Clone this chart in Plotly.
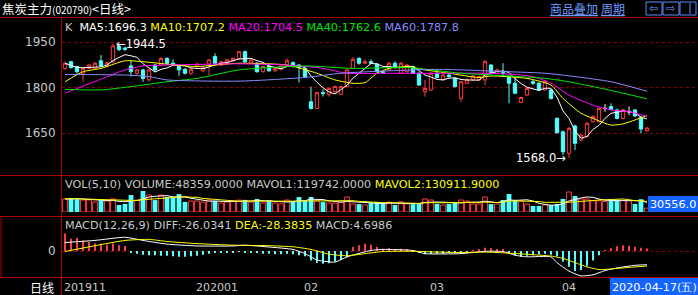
import numpy as np
import pandas as pd
import plotly.graph_objects as go

W, H = 698, 295

# ---------------- data ----------------
opens = [1863,1885,1869,1847,1863,1863,1888,1871,1885,1936,1930,1871,1847,1858,1825,1874,1874,1896,1880,1869,
         1860,1847,1869,1855,1877,1902,1874,1880,1888,1896,1918,1880,1880,1852,1871,1855,1860,1874,1882,1874,
         1863,1753,1731,1783,1778,1786,1778,1803,1863,1896,1880,1885,1877,1852,1858,1880,1847,1852,1869,1847,
         1786,1792,1847,1825,1841,1830,1764,1814,1825,1825,1825,1874,1847,1849,1836,1814,1751,1775,1819,1814,
         1792,1792,1698,1654,1583,1673,1627,1638,1687,1687,1731,1737,1726,1698,1720,1726,1701,1657]
highs = [1885,1888,1872,1866,1878,1884,1907,1885,1944.5,1940,1935,1891,1862,1862,1862,1878,1900,1900,1893,1872,
         1864,1866,1880,1870,1894,1913,1888,1894,1899,1921,1922,1894,1884,1872,1874,1866,1875,1896,1886,1878,
         1866,1803,1786,1794,1800,1806,1806,1862,1900,1900,1893,1893,1880,1856,1884,1886,1884,1878,1872,1850,
         1825,1850,1850,1845,1846,1833,1822,1830,1842,1840,1891,1878,1862,1880,1840,1835,1770,1800,1825,1818,
         1825,1795,1702,1658,1670,1678,1646,1686,1708,1735,1745,1748,1730,1730,1737,1729,1705,1670]
lows = [1858,1862,1845,1819,1860,1860,1868,1866,1880,1920,1920,1836,1840,1819,1820,1850,1870,1875,1870,1838,
        1843,1841,1866,1850,1841,1877,1870,1877,1885,1893,1880,1876,1849,1849,1852,1852,1857,1872,1866,1816,
        1833,1728,1729,1770,1770,1783,1776,1800,1860,1875,1877,1877,1849,1845,1855,1862,1844,1849,1844,1806,
        1770,1789,1830,1822,1832,1800,1753,1811,1822,1822,1808,1844,1844,1836,1748,1778,1748,1772,1808,1789,
        1789,1760,1648,1577,1568,1594,1622,1635,1684,1684,1720,1725,1695,1695,1709,1703,1649,1655]
closes = [1880,1866,1852,1863,1874,1880,1871,1882,1937,1925,1926,1852,1858,1830,1858,1858,1896,1880,1877,1858,
          1847,1860,1877,1866,1891,1880,1885,1891,1896,1918,1885,1891,1852,1869,1855,1863,1871,1888,1869,1866,
          1836,1731,1783,1780,1797,1803,1803,1858,1893,1880,1885,1880,1852,1849,1880,1866,1880,1874,1847,1808,
          1797,1847,1833,1841,1836,1803,1819,1825,1838,1836,1885,1847,1858,1846,1814,1781,1767,1797,1814,1792,
          1819,1764,1651,1588,1665,1616,1643,1682,1704,1731,1731,1728,1698,1726,1720,1706,1663,1666.5]
volumes = [163000,175000,162000,150000,151000,125000,149000,138000,164000,88000,101000,212000,150000,262000,213000,149000,
           211000,188000,186000,224000,126000,137000,139000,124000,151000,138000,112000,126000,137000,149000,151000,124000,
           163000,113000,149000,112000,101000,150000,138000,187000,137000,188000,139000,124000,113000,112000,126000,187000,
           101000,99000,88000,113000,126000,100000,124000,88000,126000,101000,99000,112000,163000,150000,101000,88000,
           100000,126000,150000,137000,100000,101000,187000,99000,100000,150000,225000,151000,137000,100000,75000,76000,
           88000,87000,101000,163000,250000,200000,163000,162000,142000,141000,131000,143000,153409,145000,146000,100000,
           159351,48359]

# moving averages (candle index -> value)
ma10_idx = [0,3,6,10,13,17,22,25,29,37,42,45,48,50,52,54,57,60,64,69,71,77,81,83,86,88,91,93,95,97]
ma10_val = [1819,1852,1863,1888,1885,1877,1869,1874,1880,1874,1847,1825,1814,1816,1847,1863,1869,1858,1847,1833,
            1838,1830,1808,1764,1715,1698,1676,1680,1693,1707.2]
ma20_idx = [0,5,10,13,17,29,37,43,47,55,60,70,75,78,81,84,88,91,94,97]
ma20_val = [1781,1820,1858,1871,1874,1878,1874,1863,1847,1847,1847,1847,1843,1836,1814,1775,1742,1726,1720,1704.5]
ma40_idx = [0,6,11,17,22,29,40,48,57,66,74,80,84,88,92,97]
ma40_val = [1794,1792,1803,1819,1830,1858,1871,1863,1866,1847,1838,1830,1819,1803,1786,1762.6]
ma60_idx = [0,10,14,17,29,40,46,54,62,66,74,80,85,91,97]
ma60_val = [1843,1841,1836,1825,1821,1833,1847,1855,1860,1858,1852,1847,1836,1819,1787.8]

# MACD
diff_idx = [0,5,10,13,17,22,28,30,34,38,40,42,45,47,51,53,58,60,66,70,73,75,77,81,82,84,86,88,90,92,95,97]
diff_val = [16,20,26,20,13,9.5,9.5,11,7.5,3,-5,-17,-21,-11,1,3,1,-5,-5,-0.6,-1,-8,-11,-11,-22,-38,-47,-45,-37,-32,
            -27,-26.0341]
dea_idx = [0,5,10,14,17,22,28,34,38,41,44,47,50,53,58,62,66,70,74,78,81,83,85,87,89,91,94,97]
dea_val = [-1,10,20,22,18,14,11,10,8,3,-6,-9,-5,-1,-0.5,-2,-3,-2,-4,-7,-9.5,-14,-22,-30,-35,-34,-31,-28.3835]
macd_hist = [33,23,25,20,17,14,14,12,14,11,9.5,
             -3,-5,-7,-8,-8,-9,-9,-10,-11,-11,-10,-9,-7,-5,-4,-3,-2,-2,-1,-2,-3,-4,-5,-5,-6,-6,-5,-6,-8,-10,
             -18,-22,-24,-23,-20,-17,-12,
             7.6,10.7,13.9,12,7.6,4.4,5.7,3.2,4.4,2,-1,
             -4,-6,-5,-5,-5,-4,-4,-3,-1,1,
             3,6,5,4,2,
             -4,-8,-11,-9,-8,-6,-5,-7,
             -10,-20,-30,-38,-36,-28,-18,-8,1,5,9,11,10,8,6,4.6986]

# header read-outs as printed in the picture
ma_names = ["MA5", "MA10", "MA20", "MA40", "MA60"]
ma_last = [1696.3, 1707.2, 1704.5, 1762.6, 1787.8]
vol_last = [48359.0, 119742.0, 130911.9]
macd_last = [-26.0341, -28.3835, 4.6986]
vol_cursor = 30556.0
date_cursor = "2020-04-17(五)"

month_labels = ["201911", "202001", "02", "03", "04"]
month_pos = [0, 22, 40, 61, 83]
price_ticks = [1650, 1800, 1950]

# ---------------- derived ----------------
n = len(closes)
x = np.arange(n)
o = np.array(opens, float); h = np.array(highs, float); l = np.array(lows, float); c = np.array(closes, float)
up = c > o
dn = c < o
dj = c == o
ma5 = pd.Series(c).rolling(5, min_periods=1).mean()
vol = pd.Series(volumes, dtype=float)
mavol1 = vol.rolling(5, min_periods=1).mean()
mavol2 = vol.rolling(10, min_periods=1).mean()
hist = np.array(macd_hist, float)

RED = "#FF3C3C"
CYAN = "#54FFFF"
FRAME = "#B00000"
GRID = "#8C0000"
LBL = "#C8C8C8"
FONT = "DejaVu Sans"
CJK = "Noto Sans CJK SC"
MA_COLORS = ["#FFFFFF", "#FFFF00", "#FF00FF", "#00E600", "#8A8AFF"]

def px(xp): return xp / W
def py(yp): return 1 - yp / H

def mask(arr, m):
    a = np.array(arr, float).copy(); a[~m] = np.nan; return a

fig = go.Figure()

def candle(m, lc, fc, name):
    fig.add_trace(go.Candlestick(
        x=x, open=mask(o, m), high=mask(h, m), low=mask(l, m), close=mask(c, m),
        increasing=dict(line=dict(color=lc, width=1), fillcolor=fc),
        decreasing=dict(line=dict(color=lc, width=1), fillcolor=fc),
        whiskerwidth=0, name=name, showlegend=False, hoverinfo="skip",
        xaxis="x", yaxis="y"))

candle(up, RED, "#000000", "up")
candle(dn, CYAN, CYAN, "down")
candle(dj, "#FFFFFF", "#FFFFFF", "doji")

fig.add_trace(go.Scatter(x=x, y=ma5, mode="lines", line=dict(color=MA_COLORS[0], width=1), xaxis="x", yaxis="y"))
for idx, val, col in [(ma10_idx, ma10_val, MA_COLORS[1]), (ma20_idx, ma20_val, MA_COLORS[2]),
                      (ma40_idx, ma40_val, MA_COLORS[3]), (ma60_idx, ma60_val, MA_COLORS[4])]:
    fig.add_trace(go.Scatter(x=idx, y=val, mode="lines", line=dict(color=col, width=1, shape="spline", smoothing=0.6),
                             xaxis="x", yaxis="y"))

# volume
vup = ~dn
fig.add_trace(go.Bar(x=x[vup], y=vol[vup], width=0.8, marker=dict(color="#000000", line=dict(color=RED, width=1)),
                     xaxis="x", yaxis="y2"))
fig.add_trace(go.Bar(x=x[dn], y=vol[dn], width=0.8, marker=dict(color=CYAN, line=dict(color=CYAN, width=0)),
                     xaxis="x", yaxis="y2"))
fig.add_trace(go.Scatter(x=x, y=mavol1, mode="lines", line=dict(color="#FFFFFF", width=1), xaxis="x", yaxis="y2"))
fig.add_trace(go.Scatter(x=x, y=mavol2, mode="lines", line=dict(color="#FFFF00", width=1), xaxis="x", yaxis="y2"))

# MACD
hp = hist >= 0
fig.add_trace(go.Bar(x=x[hp], y=hist[hp], width=0.17, marker=dict(color=RED, line=dict(width=0)), xaxis="x", yaxis="y3"))
fig.add_trace(go.Bar(x=x[~hp], y=hist[~hp], width=0.17, marker=dict(color=CYAN, line=dict(width=0)), xaxis="x", yaxis="y3"))
fig.add_trace(go.Scatter(x=diff_idx, y=diff_val, mode="lines", line=dict(color="#FFFFFF", width=1, shape="spline", smoothing=0.5),
                         xaxis="x", yaxis="y3"))
fig.add_trace(go.Scatter(x=dea_idx, y=dea_val, mode="lines", line=dict(color="#FFFF00", width=1, shape="spline", smoothing=0.5),
                         xaxis="x", yaxis="y3"))

# axes: price 1950@42px, 1800@87px, 1650@133px
k = 150 / 45.5
p_top = 1950 + (42 - 17) * k
p_bot = 1950 - (175 - 42) * k
vk = 12500
m_unit = 1.89

fig.update_layout(
    width=W, height=H, margin=dict(l=0, r=0, t=0, b=0),
    paper_bgcolor="#000000", plot_bgcolor="#000000", showlegend=False,
    barmode="overlay", boxgap=0.2,
    xaxis=dict(domain=[px(62), 1], range=[-0.5, 105.5], visible=False, rangeslider=dict(visible=False), anchor="y"),
    yaxis=dict(domain=[py(175), py(17)], range=[p_bot, p_top], tickvals=price_ticks,
               ticktext=[str(t) for t in price_ticks], tickfont=dict(color=LBL, size=12, family=FONT),
               showgrid=True, gridcolor=GRID, griddash="dot", gridwidth=1, zeroline=False,
               ticks="outside", ticklen=3, tickcolor="rgba(0,0,0,0)", showline=False, anchor="x"),
    yaxis2=dict(domain=[py(212), py(175)], range=[0, 37 * vk], visible=False, anchor="x"),
    yaxis3=dict(domain=[py(277), py(217)], range=[-26 * m_unit, 34 * m_unit], tickvals=[0], ticktext=["0"],
                tickfont=dict(color=LBL, size=12, family=FONT), showgrid=True, gridcolor=GRID, griddash="dot",
                zeroline=False, ticks="outside", ticklen=3, tickcolor="rgba(0,0,0,0)", anchor="x"),
)

shapes = []
def hline(yp, x0=0, x1=W, color=FRAME):
    shapes.append(dict(type="line", xref="paper", yref="paper", x0=px(x0), x1=px(x1), y0=py(yp), y1=py(yp),
                       line=dict(color=color, width=1)))
def vline(xp, y0, y1, color=FRAME):
    shapes.append(dict(type="line", xref="paper", yref="paper", x0=px(xp), x1=px(xp), y0=py(y0), y1=py(y1),
                       line=dict(color=color, width=1)))
def rect(x0, y0, x1, y1, fill=None, line=None):
    shapes.append(dict(type="rect", xref="paper", yref="paper", x0=px(x0), x1=px(x1), y0=py(y1), y1=py(y0),
                       fillcolor=fill or "rgba(0,0,0,0)", line=dict(color=line or "rgba(0,0,0,0)", width=1)))

hline(17.5); hline(175.5); hline(216.5); hline(277.5)
vline(61.5, 17.5, 295)
vline(1, 216.5, 277.5)
BLUE = "#1464FF"
rect(648, 196, 698, 212, fill=BLUE)
rect(610, 278, 698, 295, fill=BLUE)
for bx in (646, 663, 680):
    rect(bx, 2, bx + 16, 15, line="#5A8CFF")
vline(690, 3, 14, color="#5A8CFF")

anns = []
def ann(xp, yp, text, color=LBL, size=11, family=FONT, xanchor="left"):
    anns.append(dict(x=px(xp), y=py(yp), xref="paper", yref="paper",
                     text=text, showarrow=False, xanchor=xanchor, yanchor="middle",
                     font=dict(color=color, size=size, family=family)))

ann(0, 9, '焦炭主力<span style="font-size:10px">(020790)</span>&lt;日线&gt;', color="#FFFFFF", size=12.5, family=CJK)
ann(548, 9, "<u>商品叠加</u>", color="#6E9BFF", size=12, family=CJK)
ann(599, 9, "<u>周期</u>", color="#6E9BFF", size=12, family=CJK)
ann(647, 8, "⇦", color="#6E9BFF", size=11)
ann(664, 8, "⇨", color="#6E9BFF", size=11)

ma_txt = "K  " + " ".join('<span style="color:%s">%s:%.1f</span>' % (col, nm, v)
                          for nm, v, col in zip(ma_names, ma_last, MA_COLORS))
ann(63, 27, ma_txt, color=LBL, size=11.2)
ann(63, 184, 'VOL(5,10) VOLUME:%.4f MAVOL1:%.4f <span style="color:#FFFF00">MAVOL2:%.4f</span>'
    % tuple(vol_last), color=LBL, size=11.2)
ann(63, 225, 'MACD(12,26,9) DIFF:%.4f <span style="color:#FFFF00">DEA:%.4f</span> MACD:%.4f'
    % tuple(macd_last), color=LBL, size=11.2)
ann(673, 204, "%.1f" % vol_cursor, color="#FFFFFF", size=11.2, xanchor="center")
ann(654, 287, date_cursor, color="#FFFFFF", size=11.2, xanchor="center")
ann(56, 287, "日线", color="#FFFFFF", size=12, family=CJK, xanchor="right")

for lab, pos in zip(month_labels, month_pos):
    anns.append(dict(x=pos - 0.5, y=py(287), xref="x", yref="paper", text=lab, showarrow=False, xanchor="left",
                     yanchor="middle", font=dict(color=LBL, size=11, family=FONT)))

imax = int(np.argmax(h)); imin = int(np.argmin(l))
anns.append(dict(x=imax, y=h[imax], xref="x", yref="y", text="←%.1f" % h[imax], showarrow=False, xanchor="left",
                 yanchor="middle", xshift=1, font=dict(color="#FFFFFF", size=11.5, family=FONT)))
anns.append(dict(x=imin, y=l[imin], xref="x", yref="y", text="%.1f→" % l[imin], showarrow=False, xanchor="right",
                 yanchor="middle", xshift=-1, font=dict(color="#FFFFFF", size=11.5, family=FONT)))

fig.update_layout(shapes=shapes, annotations=anns)
fig.write_html("out.html")
